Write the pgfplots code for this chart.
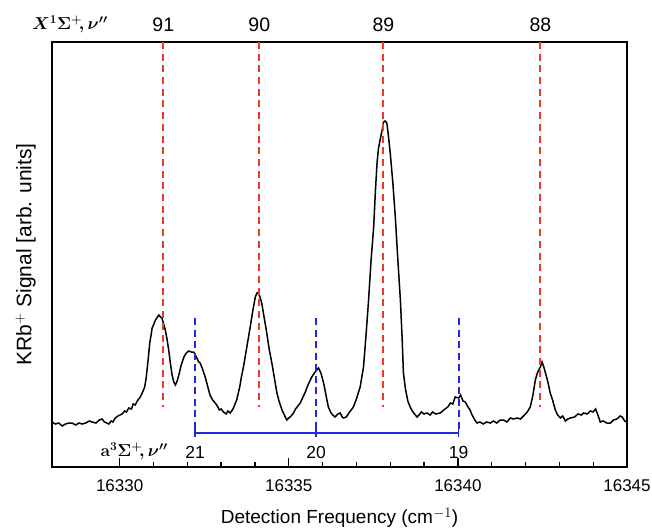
\documentclass[border=0pt]{standalone}
\usepackage{fontspec}
\setmainfont{Liberation Sans}
\usepackage{pgfplots}
\pgfplotsset{compat=1.18}

\definecolor{linered}{RGB}{238,58,36}
\definecolor{lineblue}{RGB}{36,36,228}

\begin{document}
\begin{tikzpicture}
\useasboundingbox (-52pt,-60pt) rectangle (600pt,467pt);
\begin{axis}[
    scale only axis,
    width=575pt, height=425pt,
    xmin=16328, xmax=16345,
    ymin=0, ymax=425,
    xtick={16330,16335,16340,16345},
    minor x tick num=4,
    ytick=\empty,
    xtick pos=left,
    tick align=inside,
    major tick length=9pt,
    minor tick length=5pt,
    every tick/.style={black, line width=1.3pt},
    axis line style={line width=1.8pt},
    scaled x ticks=false,
    /pgf/number format/assume math mode=true,
    xticklabel style={font=\fontsize{17}{20}\selectfont, yshift=-9pt,
        /pgf/number format/.cd, fixed, precision=0, 1000 sep={}},
    xlabel={Detection Frequency (cm$^{-1}$)},
    xlabel style={font=\fontsize{19}{22}\selectfont, yshift=-10pt},
    ylabel={KRb$^{+}$ Signal [arb. units]},
    ylabel style={font=\fontsize{21}{24}\selectfont, at={(axis description cs:-0.022,0.5)}, anchor=south},
    clip=false,
]
% spectrum
\addplot[black, line width=1.5pt] coordinates {
(16328.00,45) (16328.10,43) (16328.20,44) (16328.30,41) (16328.40,43) (16328.50,44)
(16328.59,44) (16328.70,42) (16328.80,44) (16328.89,43) (16329.00,44) (16329.10,46)
(16329.18,45) (16329.30,44) (16329.40,47) (16329.48,48) (16329.55,45) (16329.62,44)
(16329.68,43) (16329.75,46) (16329.80,45) (16329.87,49) (16329.95,51) (16330.07,53)
(16330.15,56) (16330.20,55) (16330.27,59) (16330.35,58) (16330.40,63) (16330.46,62)
(16330.52,66) (16330.61,70) (16330.68,75) (16330.74,80) (16330.78,88) (16330.81,97)
(16330.85,110) (16330.89,124) (16330.93,132) (16330.96,139) (16331.00,142) (16331.06,147)
(16331.12,150) (16331.16,152) (16331.21,150) (16331.25,149) (16331.30,143) (16331.35,137)
(16331.40,128) (16331.45,117) (16331.50,104) (16331.55,92) (16331.60,85) (16331.65,82)
(16331.70,86) (16331.75,92) (16331.82,102) (16331.90,110) (16331.97,114) (16332.04,116)
(16332.12,115) (16332.19,115) (16332.27,110) (16332.34,105) (16332.38,104) (16332.45,98)
(16332.53,90) (16332.60,81) (16332.67,72) (16332.75,67) (16332.80,65) (16332.87,62)
(16332.95,57) (16333.00,58) (16333.07,55) (16333.15,53) (16333.20,56) (16333.27,54)
(16333.35,58) (16333.40,62) (16333.46,67) (16333.55,80) (16333.60,90) (16333.66,100)
(16333.75,118) (16333.86,140) (16333.93,155) (16334.01,170) (16334.06,174) (16334.10,174)
(16334.15,170) (16334.20,164) (16334.27,150) (16334.35,134) (16334.42,118) (16334.50,104)
(16334.58,88) (16334.65,74) (16334.72,65) (16334.80,57) (16334.87,52) (16334.94,47)
(16335.00,49) (16335.07,51) (16335.14,54) (16335.20,58) (16335.27,61) (16335.34,64)
(16335.42,70) (16335.49,75) (16335.58,83) (16335.68,90) (16335.78,95) (16335.88,99)
(16335.95,94) (16336.03,84) (16336.10,72) (16336.17,60) (16336.25,54) (16336.30,52)
(16336.37,50) (16336.45,53) (16336.52,54) (16336.58,50) (16336.62,49) (16336.70,50)
(16336.80,55) (16336.91,60) (16337.00,68) (16337.11,80) (16337.16,90) (16337.21,100)
(16337.28,130) (16337.36,167) (16337.43,205) (16337.51,240) (16337.56,275) (16337.61,304)
(16337.65,318) (16337.70,327) (16337.75,335) (16337.80,345) (16337.85,346) (16337.90,344)
(16337.95,330) (16338.00,314) (16338.08,283) (16338.15,250) (16338.22,210) (16338.30,167)
(16338.35,130) (16338.39,94) (16338.45,78) (16338.52,66) (16338.59,60) (16338.65,56)
(16338.72,53) (16338.79,50) (16338.85,52) (16338.92,55) (16339.00,53) (16339.09,54)
(16339.18,52) (16339.25,55) (16339.35,53) (16339.48,54) (16339.58,57) (16339.70,60)
(16339.78,64) (16339.85,63) (16339.92,70) (16340.02,69) (16340.08,72) (16340.15,66)
(16340.22,65) (16340.30,60) (16340.36,57) (16340.42,52) (16340.50,47) (16340.57,44)
(16340.65,45) (16340.75,43) (16340.85,45) (16340.96,44) (16341.05,46) (16341.15,44)
(16341.25,47) (16341.35,47) (16341.45,45) (16341.55,49) (16341.65,48) (16341.75,49)
(16341.85,48) (16341.94,51) (16342.05,55) (16342.14,60) (16342.22,72) (16342.29,87)
(16342.35,94) (16342.39,97) (16342.44,100) (16342.49,105) (16342.54,100) (16342.59,94)
(16342.66,85) (16342.73,74) (16342.80,67) (16342.88,57) (16342.95,52) (16343.03,49)
(16343.10,51) (16343.18,46) (16343.25,48) (16343.33,49) (16343.45,50) (16343.55,53)
(16343.65,52) (16343.72,54) (16343.82,53) (16343.92,56) (16344.00,55) (16344.07,58)
(16344.14,52) (16344.21,45) (16344.30,46) (16344.40,44) (16344.51,44) (16344.60,47)
(16344.70,48) (16344.80,51) (16344.86,50) (16344.93,46) (16345.00,45)
};
% X state, red dashed
\addplot[linered, line width=2pt, dash pattern=on 7pt off 4.7pt] coordinates {(16331.29,425) (16331.29,60)};
\addplot[linered, line width=2pt, dash pattern=on 7pt off 4.7pt] coordinates {(16334.13,425) (16334.13,60)};
\addplot[linered, line width=2pt, dash pattern=on 7pt off 4.7pt] coordinates {(16337.80,425) (16337.80,60)};
\addplot[linered, line width=2pt, dash pattern=on 7pt off 4.7pt] coordinates {(16342.44,425) (16342.44,60)};
% a state, blue dashed
\addplot[lineblue, line width=2pt, dash pattern=on 7pt off 4.5pt] coordinates {(16332.23,149) (16332.23,34)};
\addplot[lineblue, line width=2pt, dash pattern=on 7pt off 4.5pt] coordinates {(16335.81,149) (16335.81,34)};
\addplot[lineblue, line width=2pt, dash pattern=on 7pt off 4.5pt] coordinates {(16340.02,149) (16340.02,34)};
\addplot[lineblue, line width=1.6pt] coordinates {(16332.23,34) (16340.02,34)};
\addplot[lineblue, line width=1.6pt] coordinates {(16332.23,30) (16332.23,38)};
\addplot[lineblue, line width=1.6pt] coordinates {(16335.81,30) (16335.81,38)};
\addplot[lineblue, line width=1.6pt] coordinates {(16340.02,30) (16340.02,38)};
% labels
\node[font=\fontsize{19.5}{22}\selectfont] at (axis cs:16331.29,442) {91};
\node[font=\fontsize{19.5}{22}\selectfont] at (axis cs:16334.13,442) {90};
\node[font=\fontsize{19.5}{22}\selectfont] at (axis cs:16337.80,442) {89};
\node[font=\fontsize{19.5}{22}\selectfont] at (axis cs:16342.44,442) {88};
\node[font=\LARGE\boldmath] at (axis cs:16328.53,443) {$X^{1}\Sigma^{+}\!,\nu''$};
\node[font=\fontsize{17.5}{20}\selectfont] at (axis cs:16332.23,15) {21};
\node[font=\fontsize{17.5}{20}\selectfont] at (axis cs:16335.81,15) {20};
\node[font=\fontsize{17.5}{20}\selectfont] at (axis cs:16340.02,15) {19};
\node[font=\LARGE\boldmath] at (axis cs:16330.43,16) {$\mathbf{a}^{3}\Sigma^{+}\!,\nu''$};
\end{axis}
\end{tikzpicture}
\end{document}
